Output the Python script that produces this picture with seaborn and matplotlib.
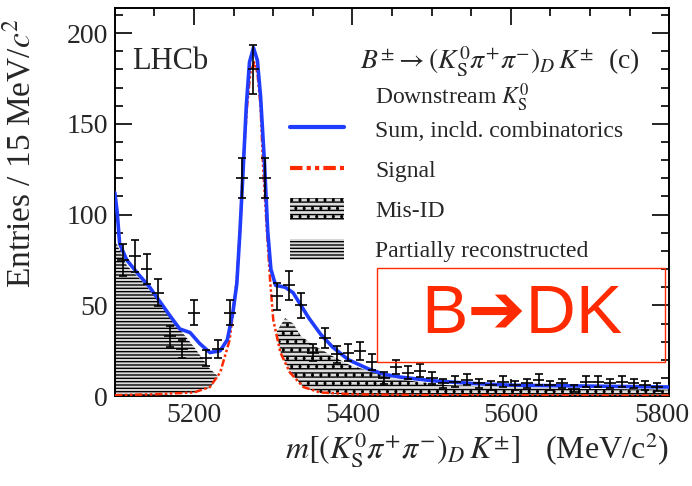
import numpy as np
import pandas as pd
import matplotlib
matplotlib.use("Agg")
import matplotlib.pyplot as plt
import matplotlib.transforms as mtransforms
from matplotlib.lines import Line2D
from matplotlib.patches import Patch, Rectangle
from matplotlib.ticker import MultipleLocator
import seaborn as sns

# data points (15 MeV bins)
bin_centres = [5110, 5125, 5140, 5155, 5170, 5185, 5200, 5215, 5230, 5245,
               5260, 5275, 5290, 5305, 5320, 5335, 5350, 5365, 5380, 5395,
               5410, 5425, 5440, 5455, 5470, 5485, 5500, 5515, 5530, 5545,
               5560, 5575, 5590, 5605, 5620, 5635, 5650, 5665, 5680, 5695,
               5710, 5725, 5740, 5755, 5770, 5785]
entries = [75, 77, 70, 57, 33, 26, 46, 21, 26, 46,
           120, 180, 120, 55, 61, 50, 24, 32, 23, 24,
           25, 19, 10, 16, 13, 14, 10, 7, 8, 9,
           7, 6, 8, 6, 7, 9, 6, 7, 4, 8,
           8, 7, 8, 7, 6, 5]

# total fit
sum_mass = [5100, 5103, 5106, 5115, 5128, 5144, 5157, 5170, 5182, 5195,
            5207, 5220, 5233, 5242, 5249, 5254, 5258, 5262, 5266, 5270,
            5275, 5280, 5284, 5289, 5293, 5297, 5303, 5315, 5325, 5335,
            5345, 5360, 5375, 5395, 5420, 5440, 5460, 5500, 5550, 5600,
            5700, 5800]
sum_fit = [112, 101, 84, 75, 68, 60, 52, 44, 37, 35,
           29, 24, 25, 31, 46, 62, 91, 125, 160, 184,
           192, 185, 165, 128, 91, 70, 61, 60, 57, 50,
           43, 34, 27, 20, 15, 12, 10.5, 8.5, 7, 6,
           5.5, 5]

# signal component
sig_mass = [5100, 5150, 5200, 5220, 5233, 5245, 5254, 5258, 5262, 5267,
            5271, 5276, 5280, 5284, 5287, 5292, 5296, 5300, 5309, 5321,
            5338, 5359, 5400, 5500, 5800]
sig_fit = [0.5, 1, 2, 5, 13, 31, 64, 91, 128, 160,
           178, 184, 178, 160, 128, 91, 64, 42, 24, 13,
           5, 2, 1, 0.5, 0.2]

# partially reconstructed background
preco_mass = [5100, 5115, 5135, 5157, 5178, 5200, 5220, 5235, 5250, 5265, 5280]
preco_fit = [86, 72, 63, 52, 39, 27, 15, 9, 5, 3, 2]

# mis-ID background
misid_mass = [5260, 5280, 5295, 5305, 5315, 5325, 5335, 5355, 5375, 5397,
              5420, 5450, 5480, 5520, 5600, 5700, 5800]
misid_fit = [2, 6, 20, 36, 43, 40, 33, 27, 22, 17,
             14, 10, 8, 6, 5, 4, 3.5]

sns.set_theme(style="ticks")
plt.rcParams["font.family"] = ["Liberation Serif", "DejaVu Serif"]
plt.rcParams["mathtext.fontset"] = "stix"
plt.rcParams["hatch.linewidth"] = 1.0

blue = "#1f3cff"
red = "#ff2a00"
hatch_face = "#dcdcdc"

fig = plt.figure(figsize=(6.92, 4.86), dpi=100)
ax = fig.add_axes([0.166, 0.185, 0.801, 0.799])

ax.fill_between(preco_mass, 0, preco_fit, facecolor=hatch_face, edgecolor="black",
                hatch="-----", linewidth=0, zorder=1)
ax.fill_between(misid_mass, 0, misid_fit, facecolor=hatch_face, edgecolor="black",
                hatch="----..", linewidth=0, zorder=1)
ax.fill_between(sig_mass, 0, sig_fit, facecolor="white", linewidth=0, zorder=2)

sig_df = pd.DataFrame({"m": sig_mass, "y": sig_fit})
sum_df = pd.DataFrame({"m": sum_mass, "y": sum_fit})
sns.lineplot(data=sig_df, x="m", y="y", ax=ax, color=red, lw=1.8,
             linestyle=(0, (3, 1, 1, 1, 1, 1)), zorder=3)
sns.lineplot(data=sum_df, x="m", y="y", ax=ax, color=blue, lw=2.6, zorder=4)

err = np.sqrt(entries)
ax.errorbar(bin_centres, entries, yerr=err, fmt="none", ecolor="black",
            elinewidth=1.2, capsize=3, capthick=1.2, zorder=5)
ax.errorbar(bin_centres, entries, xerr=7.5, fmt="none", ecolor="black",
            elinewidth=1.2, capsize=0, zorder=5)

ax.set_xlim(5100, 5800)
ax.set_ylim(0, 214)
ax.xaxis.set_major_locator(MultipleLocator(200))
ax.xaxis.set_minor_locator(MultipleLocator(50))
ax.yaxis.set_major_locator(MultipleLocator(50))
ax.yaxis.set_minor_locator(MultipleLocator(10))
ax.tick_params(which="both", direction="in", top=True, right=True,
               color="black", labelsize=20, width=1.2)
ax.tick_params(which="major", length=12, pad=5)
ax.tick_params(which="minor", length=6)
for s in ax.spines.values():
    s.set_color("black")
    s.set_linewidth(1.4)

# nudge the last x label so it stays inside the figure
fig.canvas.draw()
last = [t for t in ax.get_xticklabels() if t.get_text() == "5800"]
for t in last:
    t.set_transform(t.get_transform() + mtransforms.ScaledTranslation(-5 / 72, 0, fig.dpi_scale_trans))

ax.set_xlabel(r"$m[(K^{\it 0}_{\rm S}\pi^{+}\pi^{-})_{D}\,K^{\pm}]$   (MeV/c$^2$)",
              fontsize=23, loc="right")
ax.xaxis.set_label_coords(1.0, -0.088)
ax.set_ylabel(r"Entries / 15 MeV/$c^2$", fontsize=24, loc="top")
ax.yaxis.set_label_coords(-0.14, 0.975)

ax.text(0.032, 0.861, "LHCb", transform=ax.transAxes, fontsize=22,
        ha="left", va="center")
ax.text(0.948, 0.861, r"$B^{\pm}\rightarrow(K^{\it 0}_{\rm S}\pi^{+}\pi^{-})_{D}\,K^{\pm}$  (c)",
        transform=ax.transAxes, fontsize=20, ha="right", va="center")
ax.text(0.469, 0.768, r"Downstream $K^{\it 0}_{\rm S}$", transform=ax.transAxes,
        fontsize=17, ha="left", va="center")

handles = [
    Line2D([], [], color=blue, lw=3),
    Line2D([], [], color=red, lw=3, linestyle=(0, (3, 1, 1, 1, 1, 1))),
    Patch(facecolor=hatch_face, edgecolor="black", hatch="----..", linewidth=0),
    Patch(facecolor=hatch_face, edgecolor="black", hatch="-----", linewidth=0),
]
labels = ["Sum, incld. combinatorics", "Signal", "Mis-ID", "Partially reconstructed"]
ax.legend(handles, labels, loc="upper left", bbox_to_anchor=(0.316, 0.716),
          frameon=False, fontsize=17, handlelength=2.3, handleheight=1.0,
          handletextpad=1.3, labelspacing=0.7, borderpad=0, borderaxespad=0)

ax.add_patch(Rectangle((0.473, 0.088), 0.52, 0.243, transform=ax.transAxes,
                       fill=False, edgecolor=red, lw=1.0, zorder=6))
ax.text(0.735, 0.21, "B\u2794DK", transform=ax.transAxes, color=red,
        fontsize=50, ha="center", va="center",
        family=["Liberation Sans", "DejaVu Sans"], zorder=6)

fig.savefig("out.png", dpi=100)
